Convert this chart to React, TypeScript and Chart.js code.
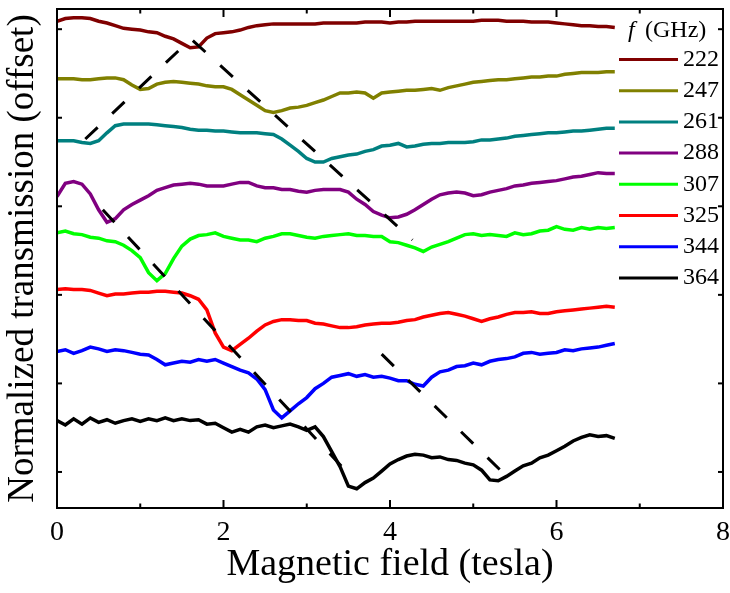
import { useEffect, useRef } from "react";
import { Chart, registerables } from "chart.js";

Chart.register(...registerables);

// Magnetic field grid (tesla) shared by all traces
const FIELD = [0,0.1,0.2,0.3,0.4,0.5,0.6,0.7,0.8,0.9,1,1.1,1.2,1.3,1.4,1.5,1.6,1.7,1.8,1.9,2,2.1,2.2,2.3,2.4,2.5,2.6,2.7,2.8,2.9,3,3.1,3.2,3.3,3.4,3.5,3.6,3.7,3.8,3.9,4,4.1,4.2,4.3,4.4,4.5,4.6,4.7,4.8,4.9,5,5.1,5.2,5.3,5.4,5.5,5.6,5.7,5.8,5.9,6,6.1,6.2,6.3,6.4,6.5,6.6,6.7];

const FREQS = ["222", "247", "261", "288", "307", "325", "344", "364"];
const COLORS = ["#800000", "#808000", "#008080", "#800080", "#00ff00", "#ff0000", "#0000ff", "#000000"];

// Normalized transmission (offset) for each frequency
const T222 = [5.09,5.12,5.13,5.13,5.12,5.09,5.07,5.04,5.01,5.00,4.99,4.97,4.96,4.92,4.89,4.84,4.79,4.80,4.90,4.95,4.96,4.97,4.99,5.02,5.04,5.05,5.06,5.06,5.06,5.06,5.06,5.06,5.07,5.07,5.07,5.07,5.07,5.08,5.08,5.08,5.07,5.08,5.08,5.09,5.09,5.09,5.09,5.09,5.09,5.09,5.09,5.10,5.10,5.10,5.09,5.09,5.09,5.08,5.08,5.08,5.07,5.06,5.05,5.04,5.04,5.03,5.03,5.02];
const T247 = [4.44,4.44,4.44,4.43,4.43,4.44,4.45,4.45,4.43,4.37,4.32,4.33,4.38,4.40,4.41,4.40,4.39,4.38,4.36,4.35,4.35,4.32,4.26,4.20,4.14,4.08,4.06,4.08,4.11,4.12,4.14,4.17,4.20,4.24,4.28,4.28,4.29,4.28,4.22,4.28,4.29,4.30,4.31,4.31,4.32,4.33,4.31,4.34,4.36,4.38,4.40,4.41,4.42,4.43,4.43,4.44,4.45,4.46,4.46,4.47,4.47,4.49,4.50,4.51,4.51,4.51,4.52,4.52];
const T261 = [3.74,3.74,3.74,3.72,3.71,3.74,3.83,3.91,3.93,3.93,3.93,3.93,3.92,3.91,3.90,3.89,3.87,3.86,3.86,3.85,3.85,3.84,3.83,3.83,3.83,3.82,3.81,3.76,3.69,3.62,3.54,3.50,3.50,3.54,3.56,3.58,3.59,3.62,3.64,3.68,3.69,3.71,3.67,3.68,3.70,3.71,3.71,3.72,3.72,3.72,3.73,3.75,3.75,3.76,3.77,3.79,3.80,3.81,3.82,3.83,3.83,3.84,3.85,3.85,3.86,3.87,3.88,3.88];
const T288 = [3.11,3.26,3.28,3.25,3.14,2.96,2.82,2.86,2.96,3.02,3.07,3.12,3.18,3.21,3.24,3.25,3.26,3.25,3.23,3.23,3.23,3.25,3.27,3.27,3.23,3.21,3.21,3.19,3.19,3.17,3.16,3.18,3.19,3.19,3.19,3.16,3.08,3.02,2.94,2.90,2.87,2.88,2.91,2.96,3.02,3.08,3.13,3.15,3.16,3.15,3.12,3.13,3.16,3.18,3.20,3.23,3.24,3.26,3.27,3.28,3.29,3.31,3.33,3.34,3.36,3.38,3.37,3.37];
const T307 = [2.70,2.72,2.69,2.68,2.65,2.64,2.61,2.60,2.56,2.50,2.42,2.25,2.16,2.24,2.41,2.55,2.63,2.67,2.68,2.70,2.66,2.64,2.62,2.62,2.60,2.64,2.66,2.69,2.69,2.67,2.65,2.64,2.66,2.67,2.68,2.69,2.67,2.67,2.66,2.66,2.60,2.59,2.56,2.53,2.49,2.54,2.57,2.60,2.64,2.68,2.69,2.67,2.68,2.67,2.66,2.70,2.68,2.69,2.72,2.73,2.77,2.74,2.73,2.76,2.74,2.76,2.75,2.76];
const T325 = [2.06,2.07,2.06,2.06,2.05,2.02,1.99,2.01,2.01,2.02,2.03,2.03,2.04,2.04,2.03,2.02,1.99,1.95,1.83,1.57,1.41,1.37,1.44,1.51,1.59,1.66,1.70,1.72,1.72,1.71,1.71,1.68,1.67,1.65,1.63,1.63,1.64,1.66,1.67,1.68,1.68,1.69,1.71,1.72,1.75,1.77,1.79,1.80,1.78,1.76,1.73,1.70,1.73,1.75,1.78,1.80,1.80,1.81,1.79,1.79,1.81,1.82,1.83,1.84,1.85,1.86,1.87,1.86];
const T344 = [1.36,1.38,1.34,1.37,1.41,1.39,1.36,1.38,1.37,1.35,1.33,1.32,1.27,1.21,1.23,1.25,1.24,1.27,1.25,1.27,1.23,1.19,1.15,1.12,1.05,0.93,0.70,0.61,0.69,0.77,0.84,0.94,1.00,1.07,1.09,1.11,1.08,1.10,1.07,1.08,1.06,1.03,1.03,0.99,0.97,1.07,1.13,1.15,1.19,1.20,1.23,1.21,1.25,1.27,1.28,1.30,1.34,1.35,1.33,1.34,1.35,1.38,1.37,1.39,1.40,1.41,1.43,1.45];
const T364 = [0.58,0.53,0.60,0.54,0.61,0.56,0.59,0.55,0.58,0.60,0.57,0.60,0.58,0.61,0.58,0.60,0.58,0.59,0.54,0.55,0.50,0.45,0.48,0.45,0.51,0.53,0.50,0.52,0.54,0.51,0.47,0.51,0.40,0.23,0.06,-0.16,-0.19,-0.12,-0.07,0.01,0.09,0.14,0.18,0.20,0.19,0.16,0.17,0.14,0.13,0.10,0.08,0.02,-0.09,-0.10,-0.05,0.01,0.07,0.10,0.16,0.19,0.24,0.29,0.35,0.39,0.42,0.40,0.41,0.38];

const SERIES = [T222, T247, T261, T288, T307, T325, T344, T364];

// Dashed guide lines following the resonance positions
const GUIDE1_X = [0.34, 1.61, 4.27];
const GUIDE1_Y = [3.76, 4.89, 2.62];
const GUIDE2_X = [0.55, 3.54];
const GUIDE2_Y = [2.96, -0.06];
const GUIDE3_X = [3.90, 5.38];
const GUIDE3_Y = [1.33, -0.03];

const X_MIN = 0;
const X_MAX = 8;
const X_STEP = 2;
const X_MINOR = [1, 3, 5, 7];
const Y_MIN = -0.407;
const Y_MAX = 5.228;
const Y_TICKS = [0, 1, 2, 3, 4, 5];

const SERIF = "'Liberation Serif', 'Times New Roman', serif";

const framePlugin = {
  id: "frame",
  afterDraw(chart: any, _args: any, opts: any) {
    const { ctx, chartArea: a, scales } = chart;
    const xs = scales.x;
    const ys = scales.y;
    ctx.save();
    ctx.strokeStyle = "#000";
    ctx.lineWidth = opts.lineWidth;
    ctx.lineCap = "butt";
    ctx.strokeRect(a.left, a.top, a.right - a.left, a.bottom - a.top);
    const seg = (x1: number, y1: number, x2: number, y2: number) => {
      ctx.beginPath();
      ctx.moveTo(x1, y1);
      ctx.lineTo(x2, y2);
      ctx.stroke();
    };
    xs.ticks.forEach((t: any) => {
      const px = xs.getPixelForValue(t.value);
      seg(px, a.bottom, px, a.bottom - opts.major);
      seg(px, a.top, px, a.top + opts.major);
    });
    X_MINOR.forEach((v) => {
      const px = xs.getPixelForValue(v);
      seg(px, a.bottom, px, a.bottom - opts.minor);
      seg(px, a.top, px, a.top + opts.minor);
    });
    ys.ticks.forEach((t: any) => {
      const py = ys.getPixelForValue(t.value);
      seg(a.left, py, a.left + opts.yLen, py);
      seg(a.right, py, a.right - opts.yLen, py);
    });
    ctx.restore();
  },
};

const legendPlugin = {
  id: "innerLegend",
  afterDraw(chart: any, _args: any, opts: any) {
    const { ctx } = chart;
    ctx.save();
    ctx.fillStyle = "#000";
    ctx.textBaseline = "middle";
    ctx.textAlign = "left";
    ctx.font = `italic ${opts.fontSize}px ${SERIF}`;
    ctx.fillText(opts.titleSymbol, opts.titleSymbolX, opts.titleY);
    ctx.font = `${opts.fontSize}px ${SERIF}`;
    ctx.fillText(opts.titleUnit, opts.titleUnitX, opts.titleY);
    const items = chart.data.datasets.filter((d: any) => !d.isGuide);
    items.forEach((d: any, i: number) => {
      const y = opts.top + i * opts.step;
      ctx.strokeStyle = d.borderColor;
      ctx.lineWidth = opts.lineWidth;
      ctx.beginPath();
      ctx.moveTo(opts.x0, y);
      ctx.lineTo(opts.x1, y);
      ctx.stroke();
      ctx.fillText(d.label, opts.textX, y);
    });
    ctx.restore();
  },
};

export default function App() {
  const ref = useRef<HTMLCanvasElement | null>(null);

  useEffect(() => {
    document.body.style.margin = "0";
    const canvas = ref.current;
    if (!canvas) return;

    const curves = SERIES.map((vals, k) => ({
      label: FREQS[k],
      data: FIELD.map((x, i) => ({ x, y: vals[i] })),
      borderColor: COLORS[k],
      backgroundColor: COLORS[k],
      borderWidth: 3.5,
      pointRadius: 0,
      tension: 0,
      fill: false,
      order: 1,
    }));

    const guide = (xs: number[], ys: number[]) => ({
      label: "",
      isGuide: true,
      data: xs.map((x, i) => ({ x, y: ys[i] })),
      borderColor: "#000",
      borderWidth: 3,
      borderDash: [17, 20],
      pointRadius: 0,
      tension: 0,
      fill: false,
      order: 0,
    });

    const chart = new Chart(canvas, {
      type: "line",
      data: {
        datasets: [
          guide(GUIDE1_X, GUIDE1_Y),
          guide(GUIDE2_X, GUIDE2_Y),
          guide(GUIDE3_X, GUIDE3_Y),
          ...curves,
        ] as any,
      },
      options: {
        animation: false,
        responsive: false,
        devicePixelRatio: 1,
        layout: { padding: { left: 0, top: 9, right: 7, bottom: 0 } },
        plugins: {
          legend: { display: false },
          tooltip: { enabled: false },
          frame: { lineWidth: 2, major: 8, minor: 4.5, yLen: 5 },
          innerLegend: {
            fontSize: 24,
            titleSymbol: "f",
            titleUnit: "(GHz)",
            titleSymbolX: 628,
            titleUnitX: 645,
            titleY: 31,
            x0: 619,
            x1: 678,
            textX: 683,
            top: 59.5,
            step: 31.2,
            lineWidth: 3,
          },
        } as any,
        scales: {
          x: {
            type: "linear",
            min: X_MIN,
            max: X_MAX,
            grid: { display: false, drawTicks: false },
            border: { display: false },
            ticks: {
              stepSize: X_STEP,
              color: "#000",
              padding: 8,
              font: { family: SERIF, size: 28 },
            },
            title: {
              display: true,
              text: "Magnetic field (tesla)",
              color: "#000",
              font: { family: SERIF, size: 38 },
              padding: { top: 0, bottom: 5 },
            },
            afterFit: (scale: any) => {
              scale.height = 85;
              scale.paddingLeft = 0;
              scale.paddingRight = 0;
            },
          },
          y: {
            type: "linear",
            min: Y_MIN,
            max: Y_MAX,
            grid: { display: false, drawTicks: false },
            border: { display: false },
            ticks: { display: false },
            afterBuildTicks: (scale: any) => {
              scale.ticks = Y_TICKS.map((v) => ({ value: v }));
            },
            title: {
              display: true,
              text: "Normalized transmission (offset)",
              color: "#000",
              font: { family: SERIF, size: 37 },
              padding: { top: 1, bottom: 0 },
            },
            afterFit: (scale: any) => {
              scale.width = 57;
              scale.paddingTop = 0;
              scale.paddingBottom = 0;
            },
          },
        },
      },
      plugins: [framePlugin, legendPlugin],
    });

    return () => chart.destroy();
  }, []);

  return (
    <div style={{ position: "fixed", left: 0, top: 0, width: 730, height: 593 }}>
      <canvas ref={ref} width={730} height={593} style={{ display: "block" }} />
    </div>
  );
}
